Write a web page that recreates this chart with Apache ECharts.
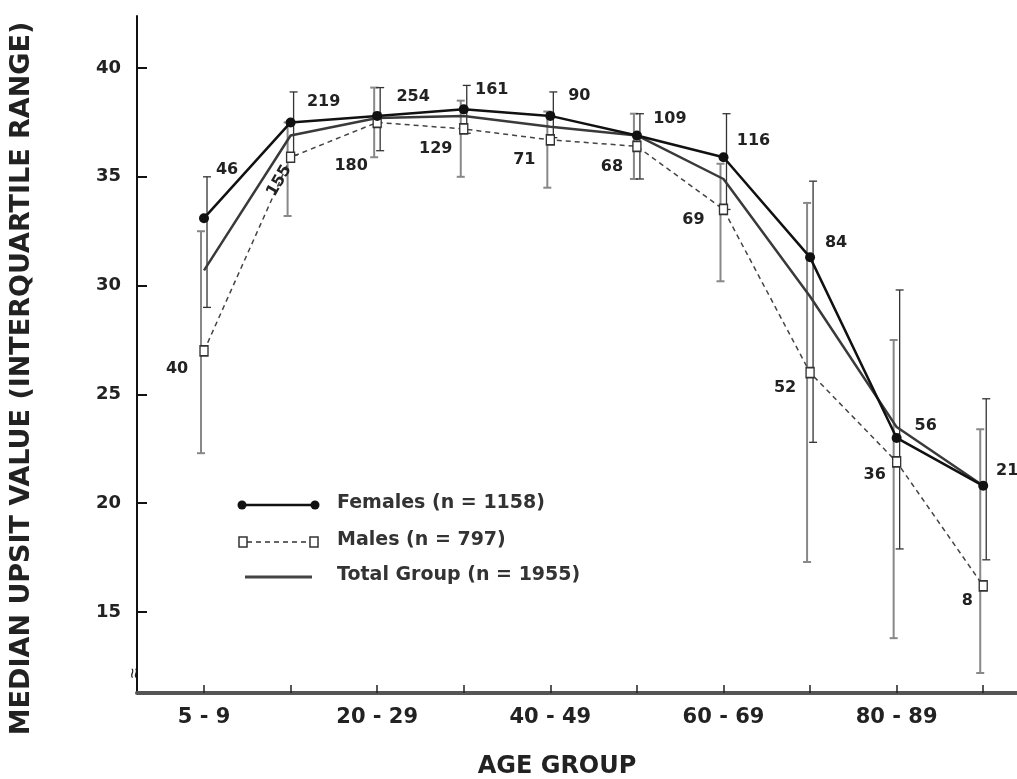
<!DOCTYPE html>
<html lang="en">

<head>
  <meta charset="UTF-8" />
  <title>UPSIT by age group</title>
  <script src="https://cdn.jsdelivr.net/npm/echarts@6/dist/echarts.min.js"></script>
</head>

<body style="margin: 0; background: #fff;">
  <div id="panel" style="width: 1017px; height: 779px;"></div>
  <script>
    // age groups (x positions are their index)
    var ageGroups = ['5 - 9', '10 - 19', '20 - 29', '30 - 39', '40 - 49',
      '50 - 59', '60 - 69', '70 - 79', '80 - 89', '90 - 99'];
    var labelGroups = [0, 2, 4, 6, 8];
    var yTicks = [15, 20, 25, 30, 35, 40];

    // medians
    var females = [33.1, 37.5, 37.8, 38.1, 37.8, 36.9, 35.9, 31.3, 23.0, 20.8];
    var males = [27.0, 35.9, 37.5, 37.2, 36.7, 36.4, 33.5, 26.0, 21.9, 16.2];
    var total = [30.7, 36.9, 37.7, 37.8, 37.3, 36.9, 34.9, 29.5, 23.5, 20.8];

    // interquartile ranges
    var femaleLow = [29.0, 36.0, 36.2, 37.0, 36.8, 34.9, 33.5, 22.8, 17.9, 17.4];
    var femaleHigh = [35.0, 38.9, 39.1, 39.2, 38.9, 37.9, 37.9, 34.8, 29.8, 24.8];
    var maleLow = [22.3, 33.2, 35.9, 35.0, 34.5, 34.9, 30.2, 17.3, 13.8, 12.2];
    var maleHigh = [32.5, 37.5, 39.1, 38.5, 38.0, 37.9, 35.6, 33.8, 27.5, 23.4];

    // sample sizes written next to the points
    var femaleN = [46, 219, 254, 161, 90, 109, 116, 84, 56, 21];
    var maleN = [40, 155, 180, 129, 71, 68, 69, 52, 36, 8];

    // where each count label sits relative to its point (px)
    var femaleLabelOffset = [[23, -48], [33, -21], [36, -19], [28, -20], [29, -20],
      [33, -17], [30, -16], [26, -14], [29, -12], [24, -15]];
    var maleLabelOffset = [[-27, 18], [-26, 2], [-26, 43], [-28, 20], [-26, 20],
      [-25, 20], [-30, 10], [-25, 15], [-22, 13], [-16, 15]];

    var font = 'DejaVu Sans';
    var myChart = echarts.init(document.getElementById('panel'));

    function withLabels(values, counts, offsets, rotate) {
      return values.map(function (v, i) {
        return {
          value: [i, v],
          label: {
            show: true,
            formatter: String(counts[i]),
            position: 'inside',
            offset: offsets[i],
            rotate: rotate && rotate[i] ? rotate[i] : 0
          }
        };
      });
    }

    function errorBars(name, low, high, dx, color, width) {
      return {
        type: 'custom',
        name: name,
        silent: true,
        z: 1,
        data: low.map(function (l, i) { return [i, l, high[i]]; }),
        renderItem: function (params, api) {
          var lo = api.coord([api.value(0), api.value(1)]);
          var hi = api.coord([api.value(0), api.value(2)]);
          var x = lo[0] + dx;
          var st = { stroke: color, lineWidth: width };
          return {
            type: 'group',
            children: [
              { type: 'line', shape: { x1: x, y1: lo[1], x2: x, y2: hi[1] }, style: st },
              { type: 'line', shape: { x1: x - 4, y1: lo[1], x2: x + 4, y2: lo[1] }, style: st },
              { type: 'line', shape: { x1: x - 4, y1: hi[1], x2: x + 4, y2: hi[1] }, style: st }
            ]
          };
        }
      };
    }

    var labelStyle = {
      fontFamily: font,
      fontWeight: 'bold',
      fontSize: 16,
      color: '#222'
    };

    var option = {
      backgroundColor: '#fff',
      animation: false,
      grid: { left: 137, right: 0, top: 16, bottom: 86, outerBoundsMode: 'none' },
      xAxis: {
        type: 'value',
        min: -0.774,
        max: 9.39,
        name: 'AGE GROUP',
        nameLocation: 'middle',
        nameGap: 62,
        nameTextStyle: { fontFamily: font, fontWeight: 'bold', fontSize: 24, color: '#222', padding: [0, 40, 0, 0] },
        axisLine: { onZero: false, lineStyle: { color: '#555', width: 4 } },
        axisTick: {
          inside: true, length: 8, customValues: ageGroups.map(function (g, i) { return i; }),
          lineStyle: { color: '#222', width: 1.5 }
        },
        axisLabel: {
          customValues: labelGroups,
          formatter: function (v) { return ageGroups[v]; },
          margin: 14,
          fontFamily: font, fontWeight: 'bold', fontSize: 21, color: '#222'
        },
        splitLine: { show: false }
      },
      yAxis: {
        type: 'value',
        min: 11.28,
        max: 42.39,
        name: 'MEDIAN UPSIT VALUE (INTERQUARTILE RANGE)',
        nameLocation: 'middle',
        nameGap: 102,
        nameTextStyle: { fontFamily: font, fontWeight: 'bold', fontSize: 27, color: '#222', padding: [0, 48, 0, 0] },
        axisLine: { show: true, onZero: false, lineStyle: { color: '#111', width: 2 } },
        axisTick: { inside: true, length: 10, customValues: yTicks, lineStyle: { color: '#111', width: 2 } },
        axisLabel: {
          customValues: yTicks,
          margin: 16,
          fontFamily: font, fontWeight: 'bold', fontSize: 18, color: '#222'
        },
        splitLine: { show: false }
      },
      graphic: [
        // legend
        { type: 'line', shape: { x1: 242, y1: 505, x2: 315, y2: 505 }, style: { stroke: '#111', lineWidth: 2.5 } },
        { type: 'circle', shape: { cx: 242, cy: 505, r: 4.5 }, style: { fill: '#111' } },
        { type: 'circle', shape: { cx: 315, cy: 505, r: 4.5 }, style: { fill: '#111' } },
        { type: 'text', left: 337, top: 494, style: { text: 'Females (n = 1158)', fontFamily: font, fontWeight: 'bold', fontSize: 19, fill: '#333' } },
        { type: 'line', shape: { x1: 247, y1: 542, x2: 310, y2: 542 }, style: { stroke: '#333', lineWidth: 1.5, lineDash: [5, 4] } },
        { type: 'rect', shape: { x: 239, y: 537, width: 8, height: 10 }, style: { fill: '#fff', stroke: '#333', lineWidth: 1.5 } },
        { type: 'rect', shape: { x: 310, y: 537, width: 8, height: 10 }, style: { fill: '#fff', stroke: '#333', lineWidth: 1.5 } },
        { type: 'text', left: 337, top: 531, style: { text: 'Males (n = 797)', fontFamily: font, fontWeight: 'bold', fontSize: 19, fill: '#333' } },
        { type: 'line', shape: { x1: 245, y1: 577, x2: 312, y2: 577 }, style: { stroke: '#444', lineWidth: 3 } },
        { type: 'text', left: 337, top: 566, style: { text: 'Total Group (n = 1955)', fontFamily: font, fontWeight: 'bold', fontSize: 19, fill: '#333' } },
        // axis break mark
        { type: 'text', left: 126, top: 668, rotation: Math.PI / 2, style: { text: '≈', fontSize: 18, fill: '#222' } }
      ],
      series: [
        errorBars('Males IQR', maleLow, maleHigh, -3, '#888', 2),
        errorBars('Females IQR', femaleLow, femaleHigh, 3, '#333', 1.3),
        {
          name: 'Total Group',
          type: 'line',
          z: 3,
          showSymbol: false,
          lineStyle: { color: '#3a3a3a', width: 2.5 },
          data: total.map(function (v, i) { return [i, v]; })
        },
        {
          name: 'Males',
          type: 'line',
          z: 4,
          symbol: 'rect',
          symbolSize: [8, 10],
          itemStyle: { color: '#fff', borderColor: '#333', borderWidth: 1.5 },
          lineStyle: { color: '#444', width: 1.5, type: [5, 4] },
          label: labelStyle,
          data: withLabels(males, maleN, maleLabelOffset, [0, 60])
        },
        {
          name: 'Females',
          type: 'line',
          z: 5,
          symbol: 'circle',
          symbolSize: 10,
          itemStyle: { color: '#111' },
          lineStyle: { color: '#111', width: 2.5 },
          label: labelStyle,
          data: withLabels(females, femaleN, femaleLabelOffset)
        }
      ]
    };

    myChart.setOption(option);
  </script>
</body>

</html>
